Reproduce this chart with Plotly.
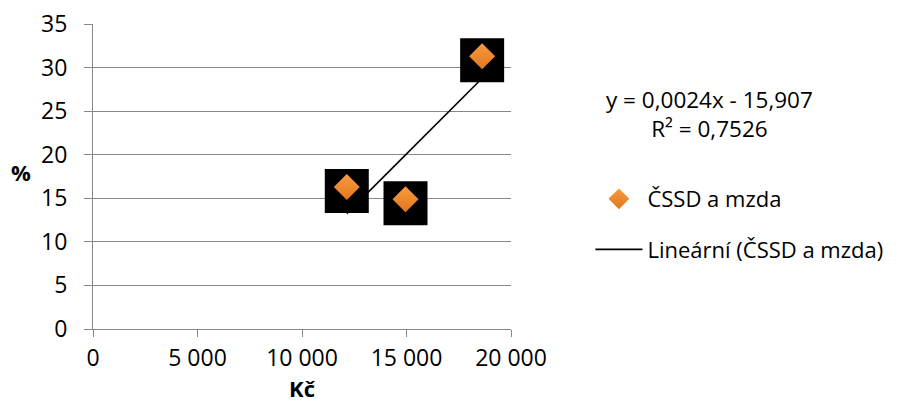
import plotly.graph_objects as go

# data
mzda_kc = [12143, 14952, 18619]
cssd_pct = [16.3, 14.9, 31.3]
trend_slope = 0.0024
trend_intercept = -15.907
r_squared = "0,7526"
x_tick_vals = [0, 5000, 10000, 15000, 20000]
x_tick_text = ["0", "5 000", "10 000", "15 000", "20 000"]
y_tick_vals = [0, 5, 10, 15, 20, 25, 30, 35]
series_name = "ČSSD a mzda"
trend_name = "Lineární (ČSSD a mzda)"

FONT = "Open Sans"
FS_TICK = 23
FS_ANN = 22.5
FS_LEG = 22
FS_TITLE = 22
GRID = "#878787"
PLOT_H_PX = 305
Y_MAX = 35
SHADOW_PX = 4  # black square shadow sits a few px lower than the diamond
shadow_dy = SHADOW_PX * Y_MAX / PLOT_H_PX

trend_x = [min(mzda_kc), max(mzda_kc)]
trend_y = [trend_slope * v + trend_intercept for v in trend_x]

fig = go.Figure()
fig.add_trace(go.Scatter(
    x=trend_x, y=trend_y, mode="lines", name=trend_name,
    legendgroup="b", legendrank=2,
    line=dict(color="black", width=1.6), hoverinfo="skip",
))
fig.add_trace(go.Scatter(
    x=mzda_kc, y=[v - shadow_dy for v in cssd_pct], mode="markers",
    showlegend=False, hoverinfo="skip",
    marker=dict(symbol="square", size=44, color="black", line=dict(width=0)),
))
fig.add_trace(go.Scatter(
    x=mzda_kc, y=cssd_pct, mode="markers", name=series_name,
    legendgroup="a", legendrank=1,
    marker=dict(symbol="diamond", size=20, color="#F89B3E",
                gradient=dict(type="vertical", color="#E2761F"),
                line=dict(width=0)),
))

eq_text = "y = %s x - %s<br>R² = %s" % ("0,0024", "15,907", r_squared)
eq_text = eq_text.replace("0,0024 x", "0,0024x")

# page body has an 8px margin, so the figure is shifted by 8px
fig.update_layout(
    width=893, height=406,
    margin=dict(l=85, r=388, t=16, b=85),
    paper_bgcolor="white", plot_bgcolor="white",
    font=dict(family=FONT, size=FS_TICK, color="black"),
    showlegend=True,
    legend=dict(
        x=1.19, y=0.495, xanchor="left", yanchor="top",
        traceorder="grouped", tracegroupgap=19,
        itemwidth=47, font=dict(family=FONT, size=FS_LEG),
        bgcolor="rgba(0,0,0,0)",
    ),
    xaxis=dict(
        range=[0, 20000], tickvals=x_tick_vals, ticktext=x_tick_text,
        showgrid=False, zeroline=False, showline=True, linecolor=GRID, linewidth=1,
        ticks="outside", ticklen=7, tickcolor=GRID, automargin=False,
        ticklabelstandoff=1, ticklabeloverflow="allow",
        tickfont=dict(size=FS_TICK),
        title=dict(text="<b>Kč</b>", standoff=6, font=dict(size=FS_TITLE)),
    ),
    yaxis=dict(
        range=[0, Y_MAX], tickvals=y_tick_vals,
        showgrid=True, gridcolor=GRID, gridwidth=1, zeroline=False,
        showline=True, linecolor=GRID, linewidth=1,
        ticks="outside", ticklen=8, tickcolor=GRID, automargin=False,
        ticklabelstandoff=12, ticklabeloverflow="allow",
        tickfont=dict(size=FS_TICK),
    ),
    annotations=[
        dict(xref="paper", yref="paper", x=-0.173, y=0.515, xanchor="center", yanchor="middle",
             text="<b>%</b>", showarrow=False, font=dict(size=FS_TITLE)),
        dict(xref="paper", yref="paper", x=1.474, y=0.705, xanchor="center", yanchor="middle",
             align="center", text=eq_text, showarrow=False, font=dict(size=FS_ANN)),
    ],
)

fig.write_html("out.html")
